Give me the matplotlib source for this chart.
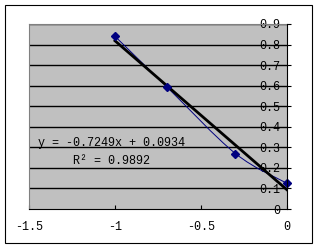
import numpy as np
import matplotlib
matplotlib.use("Agg")
import matplotlib.pyplot as plt
from matplotlib.path import Path
from matplotlib.patches import PathPatch, Rectangle

# data
x_vals = [-1.0, -0.7, -0.3, 0.0]
y_vals = [0.84, 0.595, 0.27, 0.125]
slope = -0.7249
intercept = 0.0934
r2 = 0.9892
x_ticks = [-1.5, -1.0, -0.5, 0.0]
x_labels = ["-1.5", "-1", "-0.5", "0"]
y_ticks = [0, 0.1, 0.2, 0.3, 0.4, 0.5, 0.6, 0.7, 0.8, 0.9]
y_labels = ["0", "0.1", "0.2", "0.3", "0.4", "0.5", "0.6", "0.7", "0.8", "0.9"]

plt.rcParams["font.family"] = ["Liberation Mono", "DejaVu Sans Mono"]
fs = 8.5

fig = plt.figure(figsize=(3.15, 2.48), dpi=100)
fig.patches.append(Rectangle((5 / 315, 5 / 248), 307 / 315, 238 / 248,
                             transform=fig.transFigure, fill=False,
                             edgecolor="black", linewidth=0.8))
ax = fig.add_axes([29 / 315, 1 - 209 / 248, 258 / 315, 185 / 248])
ax.set_facecolor("#c0c0c0")
ax.set_xlim(-1.5, 0)
ax.set_ylim(0, 0.9)

for s in ["top", "left"]:
    ax.spines[s].set_color("#808080")
ax.spines["right"].set_color("black")
ax.spines["bottom"].set_color("black")
ax.spines["right"].set_zorder(5)

ax.yaxis.tick_right()
ax.tick_params(axis="y", direction="out", length=3, pad=-8, width=0.8)
ax.set_yticks(y_ticks)
ax.set_yticklabels(y_labels, fontsize=fs, ha="right")
ax.tick_params(axis="x", direction="in", length=3, pad=9, width=0.8)
ax.set_xticks(x_ticks)
ax.set_xticklabels(x_labels, fontsize=fs)

for yv in y_ticks[1:]:
    ax.axhline(yv, color="black", linewidth=1.0, zorder=1)

# smoothed series line (bezier through the points)
pts = np.column_stack([x_vals, y_vals])
verts = [tuple(pts[0])]
codes = [Path.MOVETO]
n = len(pts)
for i in range(n - 1):
    p0 = pts[i - 1] if i > 0 else pts[i]
    p1, p2 = pts[i], pts[i + 1]
    p3 = pts[i + 2] if i + 2 < n else pts[i + 1]
    c1 = p1 + (p2 - p0) / 6
    c2 = p2 - (p3 - p1) / 6
    verts += [tuple(c1), tuple(c2), tuple(p2)]
    codes += [Path.CURVE4] * 3
ax.add_patch(PathPatch(Path(verts, codes), fill=False, edgecolor="#000080",
                       linewidth=0.7, zorder=3))
ax.plot(x_vals, y_vals, linestyle="none", marker="D", markersize=4,
        color="#000080", zorder=4, clip_on=False)

# linear trendline
tx = np.array([x_vals[0], x_vals[-1]])
ax.plot(tx, np.polyval([slope, intercept], tx), color="black",
        linewidth=2.0, zorder=3)

ax.text(-1.45, 0.322, "y = %.4fx + %.4f" % (slope, intercept), fontsize=fs,
        va="center", ha="left")
ax.text(-1.245, 0.232, "R² = %.4f" % r2, fontsize=fs, va="center", ha="left")

fig.savefig("out.png", dpi=100)
